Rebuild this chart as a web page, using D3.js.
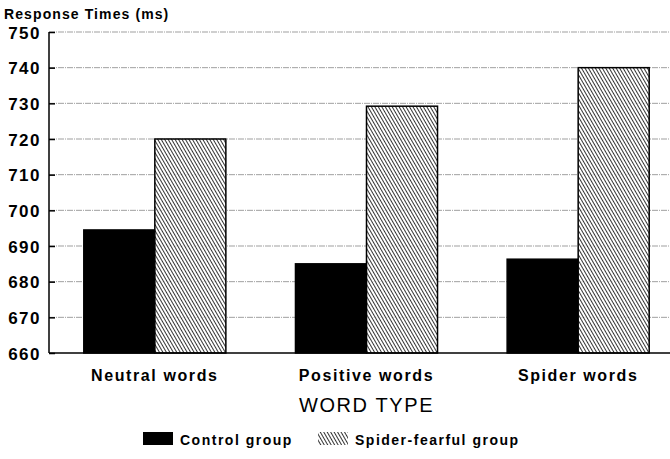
<!DOCTYPE html>
<html>
<head>
<meta charset="utf-8">
<script src="https://cdn.jsdelivr.net/npm/d3@7"></script>
<style>
  body { margin: 0; background: #fff; }
  text { font-family: "Liberation Sans", Arial, sans-serif; fill: #000; }
</style>
</head>
<body>
<svg id="chart" width="670" height="459"></svg>
<script>
// chart values
const wordTypes = ['Neutral words', 'Positive words', 'Spider words'];
const groups = ['Control group', 'Spider-fearful group'];
const controlTimes = [694.5, 685, 686.3];
const spiderTimes = [720, 729.2, 740];
const yTicks = [660, 670, 680, 690, 700, 710, 720, 730, 740, 750];

const data = wordTypes.map((w, i) => ({
    word: w,
    values: [
        {group: groups[0], value: controlTimes[i]},
        {group: groups[1], value: spiderTimes[i]}
    ]
}));

const svg = d3.select('#chart');

// hatch for the spider-fearful bars
const defs = svg.append('defs');
const pat = defs.append('pattern')
    .attr('id', 'hatch')
    .attr('patternUnits', 'userSpaceOnUse')
    .attr('width', 3)
    .attr('height', 3)
    .attr('patternTransform', 'rotate(-30)');
pat.append('rect').attr('width', 3).attr('height', 3).attr('fill', '#fff').attr('fill-opacity', 0.8);
pat.append('line')
    .attr('x1', 0).attr('y1', 0).attr('x2', 0).attr('y2', 3)
    .attr('stroke', '#000').attr('stroke-width', 1.6);

const plotLeft = 49, plotRight = 684, plotTop = 32, plotBottom = 353;

const x0 = d3.scaleBand().domain(wordTypes).range([plotLeft, plotRight]).padding(0);
const x1 = d3.scaleBand().domain(groups).range([0, x0.bandwidth()]).paddingInner(0).paddingOuter(0.49);
const y = d3.scaleLinear().domain([660, 750]).range([plotBottom, plotTop]);

// dash-dot gridlines
svg.append('g')
    .selectAll('line')
    .data(yTicks.filter(d => d > 660))
    .enter()
    .append('line')
    .attr('x1', plotLeft)
    .attr('x2', plotRight)
    .attr('y1', d => y(d))
    .attr('y2', d => y(d))
    .attr('stroke', '#777')
    .attr('stroke-width', 0.7)
    .attr('stroke-dasharray', '6,1,1,1');

// bars
const grp = svg.append('g')
    .selectAll('g')
    .data(data)
    .enter()
    .append('g')
    .attr('transform', d => `translate(${x0(d.word)},0)`);

grp.selectAll('rect')
    .data(d => d.values)
    .enter()
    .append('rect')
    .attr('x', d => x1(d.group))
    .attr('y', d => y(d.value))
    .attr('width', x1.bandwidth())
    .attr('height', d => y(660) - y(d.value))
    .attr('fill', d => d.group === groups[0] ? '#000' : 'url(#hatch)')
    .attr('stroke', '#000')
    .attr('stroke-width', 1.5);

// y axis
const yAxis = svg.append('g')
    .attr('transform', `translate(${plotLeft},0)`)
    .call(d3.axisLeft(y).tickValues(yTicks).tickSize(-6).tickPadding(8));
yAxis.select('.domain').attr('stroke', '#000').attr('stroke-width', 1.5).attr('d', `M0,${plotTop}V${plotBottom}`);
yAxis.selectAll('.tick line').attr('stroke', '#000').attr('stroke-width', 1.5);
yAxis.selectAll('.tick text')
    .style('font-family', '"Liberation Sans", Arial, sans-serif')
    .style('font-size', '17px')
    .style('font-weight', 'bold')
    .style('letter-spacing', '1.5px')
    .attr('dy', '0.36em');

// x axis baseline
svg.append('line')
    .attr('x1', plotLeft).attr('x2', plotRight)
    .attr('y1', plotBottom).attr('y2', plotBottom)
    .attr('stroke', '#000').attr('stroke-width', 1.5);

// category labels
svg.append('g')
    .selectAll('text')
    .data(wordTypes)
    .enter()
    .append('text')
    .attr('x', d => x0(d) + x0.bandwidth() / 2)
    .attr('y', 381)
    .attr('text-anchor', 'middle')
    .style('font-size', '16px')
    .style('font-weight', 'bold')
    .style('letter-spacing', '1.6px')
    .text(d => d);

// titles
svg.append('text')
    .attr('x', 4).attr('y', 19)
    .style('font-size', '14px')
    .style('font-weight', 'bold')
    .style('letter-spacing', '1.1px')
    .text('Response Times (ms)');

svg.append('text')
    .attr('x', x0('Positive words') + x0.bandwidth() / 2)
    .attr('y', 412)
    .attr('text-anchor', 'middle')
    .style('font-size', '20px')
    .style('letter-spacing', '1.6px')
    .text('WORD TYPE');

// legend
const legend = svg.append('g').attr('transform', 'translate(143,432)');
const legendX = [0, 175];
legend.selectAll('rect')
    .data(groups)
    .enter()
    .append('rect')
    .attr('x', (d, i) => legendX[i])
    .attr('y', 0)
    .attr('width', 30)
    .attr('height', 13)
    .attr('fill', (d, i) => i === 0 ? '#000' : 'url(#hatch)');
legend.selectAll('text')
    .data(groups)
    .enter()
    .append('text')
    .attr('x', (d, i) => legendX[i] + 37)
    .attr('y', 13)
    .style('font-size', '14px')
    .style('font-weight', 'bold')
    .style('letter-spacing', '1.5px')
    .text(d => d);
</script>
</body>
</html>
